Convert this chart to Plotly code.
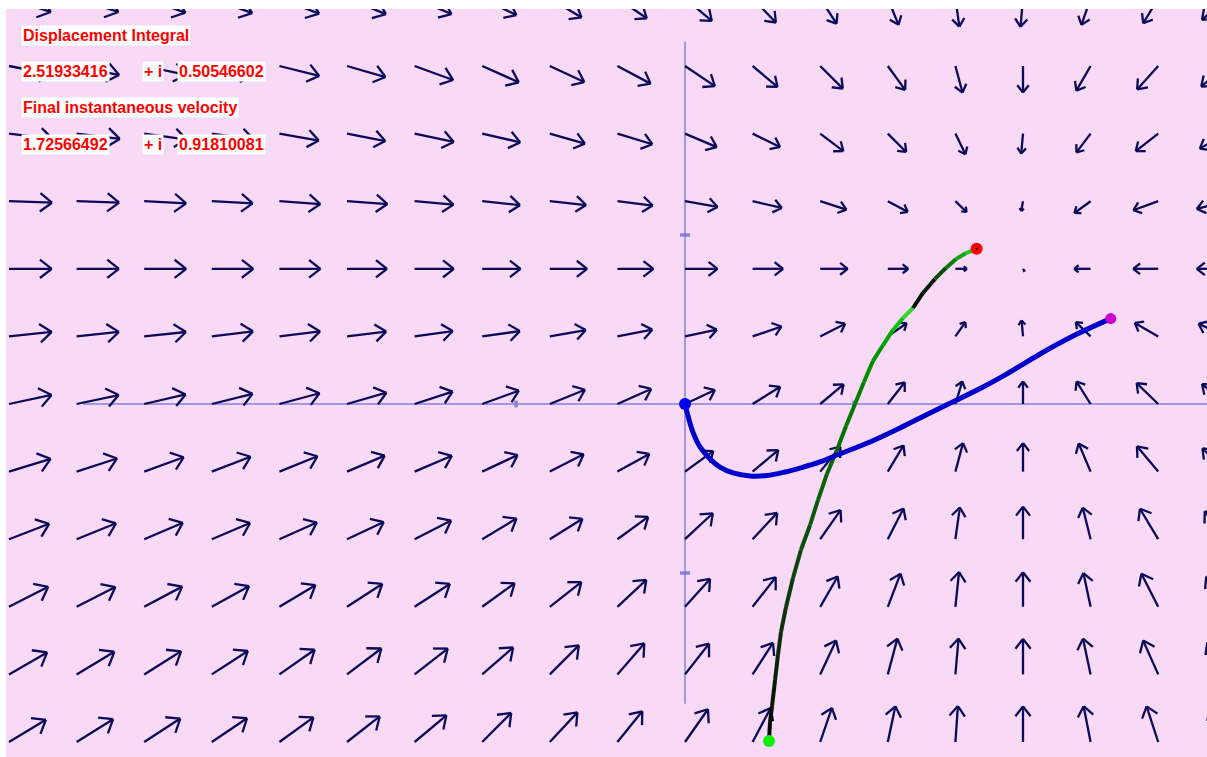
import math
import plotly.graph_objects as go

# ---------------- data ----------------
PX_PER_UNIT = 169.0   # screen pixels per complex-plane unit in the reference

GRID_X = [-4.0, -3.6, -3.2, -2.8, -2.4, -2.0, -1.6, -1.2, -0.8, -0.4,
          0.0, 0.4, 0.8, 1.2, 1.6, 2.0, 2.4, 2.8, 3.2]
GRID_Y = [2.4, 2.0, 1.6, 1.2, 0.8, 0.4, 0.0, -0.4, -0.8, -1.2, -1.6, -2.0]

# arrow direction (degrees, counter-clockwise from +x), one row per GRID_Y
FIELD_ANGLE = [
    [-18, -18, -19, -20, -21, -22, -23, -26, -31, -34, -40, -46, -57, -68, -82, -95, -109, -121, -138],
    [-11, -12, -12, -13, -14, -16, -20, -24, -25, -28, -34, -40, -45, -54, -75, -90, -120, -132, -140],
    [-7, -7, -8, -8, -10, -11, -12, -13, -16, -17, -23, -26, -37, -45, -64, -95, -127, -142, -150],
    [-2, -2, -3, -3, -4, -4, -5, -6, -6, -7, -10, -13, -18, -28, -44, -100, -144, -160, -165],
    [0, 0, 0, 0, 0, 0, 0, 0, 0, 0, 0, 0, 0, 0, 0, -60, 180, 180, 180],
    [6, 6, 6, 7, 7, 7, 8, 8, 10, 11, 12, 19, 27, 35, 55, 95, 136, 150, 155],
    [12, 12, 13, 14, 15, 16, 18, 20, 22, 24, 25, 32, 40, 52, 73, 90, 122, 136, 140],
    [17, 18, 20, 21, 22, 23, 23, 25, 27, 29, 36, 40, 51, 59, 75, 90, 113, 130, 135],
    [21, 22, 23, 23, 24, 25, 27, 31, 32, 36, 43, 47, 55, 63, 82, 90, 104, 121, 127],
    [27, 27, 28, 29, 31, 33, 33, 36, 38, 43, 48, 52, 60, 69, 84, 90, 102, 117, 123],
    [30, 31, 32, 33, 35, 37, 38, 41, 45, 49, 52, 57, 65, 75, 85, 90, 102, 114, 120],
    [31, 32, 33, 34, 36, 38, 40, 45, 47, 51, 55, 62, 71, 78, 86, 90, 101, 108, 115],
]

# drawn arrow length (screen pixels), one row per GRID_Y
FIELD_LEN_PX = [
    [44, 44, 43.5, 43, 42.5, 42, 40, 38, 37, 35.5, 35, 33.5, 30, 28.5, 28.5, 28.5, 28, 29, 32],
    [44, 43.5, 43, 42.5, 41, 40, 41, 40, 38, 37.5, 36, 32.5, 32, 29.5, 27.5, 26.5, 28.5, 31.5, 32],
    [44, 43.5, 43, 42.5, 40, 39, 40, 39, 36.5, 36.5, 34.5, 30.5, 29, 26, 23, 20, 23.5, 28.5, 30],
    [43, 42.5, 42, 41, 41, 40.5, 39, 38, 36.5, 35.5, 33, 30, 27.5, 22.5, 15.5, 10, 20, 26.5, 30],
    [42.7, 42.3, 42, 41.5, 41, 40, 39.3, 38.3, 37.3, 36, 32.5, 30.5, 27.5, 20.5, 11.5, 3, 16.5, 25, 29],
    [43, 42.5, 42, 41.5, 41, 39.5, 38.5, 38, 36.5, 35.5, 32.5, 30.5, 28, 23, 17.5, 16, 20.5, 27, 30],
    [43.5, 43, 42.5, 42, 41.5, 41, 40, 39, 38, 37, 33, 32.5, 30.5, 27.5, 23.5, 22.5, 26.5, 30, 31],
    [43.5, 42.5, 42, 41.5, 41, 41, 40.5, 39, 38, 36.5, 35, 33.5, 32, 30.5, 29.5, 28.5, 30.5, 33, 33],
    [43, 42.5, 42, 41.5, 41, 40.5, 41, 40, 38.5, 38, 38, 36, 35.5, 34.5, 32, 32.5, 32.5, 35.5, 35],
    [44, 43.5, 43, 42.5, 42, 42, 42, 40, 40, 39.5, 37.5, 37.5, 35, 35.5, 35, 34.5, 34.5, 37, 36],
    [44, 44, 43.5, 43, 43, 43, 42, 41, 41, 41, 39, 37.5, 37.5, 37, 36, 35.5, 36.5, 37, 37],
    [43, 43, 43, 42.5, 42, 41.5, 41.5, 41, 40.5, 39.5, 40, 38.5, 36, 36.5, 36, 35.5, 36.5, 37.5, 37],
]

# displacement path (blue), origin -> displacement integral
BLUE_X = [0.0, 0.018, 0.047, 0.089, 0.148, 0.207, 0.284, 0.385, 0.485, 0.592, 0.680,
          0.799, 0.899, 1.095, 1.272, 1.450, 1.609, 1.775, 1.905, 2.101, 2.308, 2.519]
BLUE_Y = [0.0, -0.071, -0.166, -0.254, -0.325, -0.373, -0.408, -0.426, -0.423, -0.402, -0.379,
          -0.343, -0.302, -0.225, -0.142, -0.053, 0.024, 0.107, 0.178, 0.296, 0.408, 0.505]

# velocity path (green), start -> final velocity
GREEN_X = [0.497, 0.503, 0.515, 0.533, 0.550, 0.568, 0.598, 0.639, 0.686, 0.740, 0.787,
           0.840, 0.899, 0.953, 1.006, 1.059, 1.112, 1.172, 1.231, 1.290, 1.349, 1.408,
           1.479, 1.544, 1.604, 1.663, 1.726]
GREEN_Y = [-1.994, -1.882, -1.787, -1.633, -1.485, -1.349, -1.201, -1.030, -0.864, -0.716, -0.568,
           -0.414, -0.272, -0.130, 0.000, 0.130, 0.254, 0.349, 0.438, 0.509, 0.568, 0.657,
           0.740, 0.805, 0.858, 0.893, 0.918]
GREEN_SEG_COLORS = ["#000000", "#030d03", "#061806", "#0a220a", "#0c2a0c", "#0d320d",
                    "#0d3a0d", "#0c440c", "#0b4e0b", "#0a580a", "#086008", "#066806",
                    "#047004", "#027802", "#008200", "#008c00", "#009600", "#00a600",
                    "#10c010", "#30d830", "#001000", "#061806", "#0a4a0a", "#0a7a0a",
                    "#10a810", "#22c822"]

DISPLACEMENT = (2.51933416, 0.50546602)
FINAL_VELOCITY = (1.72566492, 0.91810081)

TITLE_DISP = "Displacement Integral"
TITLE_VEL = "Final instantaneous velocity"

# axis extents (units)
AXIS_X_START = -3.562
AXIS_Y_TOP, AXIS_Y_BOTTOM = 2.144, -1.773
AXIS_TICKS = [-1.0, 1.0]

# ---------------- figure ----------------
W, H = 1207, 757
ML, MT = 6, 9
X_RANGE = [(ML - 685) / PX_PER_UNIT, (W - 685) / PX_PER_UNIT]
Y_RANGE = [(404 - H) / PX_PER_UNIT, (404 - MT) / PX_PER_UNIT]

ARROW_COLOR = "#0a0a58"
AXIS_COLOR = "#8282d8"

fig = go.Figure()

# vector field arrows
ax, ay = [], []
for r, yv in enumerate(GRID_Y):
    for c, xv in enumerate(GRID_X):
        a = math.radians(FIELD_ANGLE[r][c])
        L = FIELD_LEN_PX[r][c] / PX_PER_UNIT
        hx, hy = xv + L * math.cos(a), yv + L * math.sin(a)
        ax += [xv, hx, None]
        ay += [yv, hy, None]
        b = 0.35 * L
        for s in (1, -1):
            ba = a + math.pi + s * math.radians(38)
            ax += [hx + b * math.cos(ba), hx, None]
            ay += [hy + b * math.sin(ba), hy, None]
fig.add_trace(go.Scatter(x=ax, y=ay, mode="lines", hoverinfo="skip",
                         line=dict(color=ARROW_COLOR, width=2.3), showlegend=False))

# velocity path (coloured segments)
for i in range(len(GREEN_X) - 1):
    fig.add_trace(go.Scatter(x=GREEN_X[i:i + 2], y=GREEN_Y[i:i + 2], mode="lines",
                             line=dict(color=GREEN_SEG_COLORS[i], width=4),
                             hoverinfo="skip", showlegend=False))

# displacement path
fig.add_trace(go.Scatter(x=BLUE_X, y=BLUE_Y, mode="lines", line=dict(color="#0000cd", width=5),
                         line_shape="spline", hoverinfo="skip", showlegend=False))

# end points
fig.add_trace(go.Scatter(x=[BLUE_X[0]], y=[BLUE_Y[0]], mode="markers",
                         marker=dict(color="#0000f0", size=12), showlegend=False))
fig.add_trace(go.Scatter(x=[DISPLACEMENT[0]], y=[DISPLACEMENT[1]], mode="markers",
                         marker=dict(color="#cc00cc", size=11), showlegend=False))
fig.add_trace(go.Scatter(x=[GREEN_X[0]], y=[GREEN_Y[0]], mode="markers",
                         marker=dict(color="#11ee11", size=12), showlegend=False))
fig.add_trace(go.Scatter(x=[FINAL_VELOCITY[0]], y=[FINAL_VELOCITY[1]], mode="markers",
                         marker=dict(color="#ff0000", size=12), showlegend=False))
fig.add_trace(go.Scatter(x=[FINAL_VELOCITY[0]], y=[FINAL_VELOCITY[1]], mode="markers",
                         marker=dict(color="#000000", size=2), showlegend=False))

# axes as shapes
shapes = [
    dict(type="line", xref="x", yref="y", x0=AXIS_X_START, x1=X_RANGE[1], y0=0, y1=0,
         line=dict(color=AXIS_COLOR, width=1.5), layer="below"),
    dict(type="line", xref="x", yref="y", x0=0, x1=0, y0=AXIS_Y_BOTTOM, y1=AXIS_Y_TOP,
         line=dict(color=AXIS_COLOR, width=1.5), layer="below"),
]
for t in AXIS_TICKS:
    shapes.append(dict(type="line", xref="x", yref="y", x0=-0.03, x1=0.03, y0=t, y1=t,
                       line=dict(color=AXIS_COLOR, width=3.5), layer="below"))
    shapes.append(dict(type="line", xref="x", yref="y", x0=t, x1=t, y0=-0.02, y1=0.02,
                       line=dict(color=AXIS_COLOR, width=3.5), layer="below"))

# labels
def px_to_paper(X, Y):
    return (X - ML) / (W - ML), (H - Y) / (H - MT)

labels = [
    (TITLE_DISP, 21, 35.5),
    (f"{DISPLACEMENT[0]:.8f}", 21, 71.5),
    ("+ i", 142, 71.5),
    (f"{DISPLACEMENT[1]:.8f}", 177, 71.5),
    (TITLE_VEL, 21, 108),
    (f"{FINAL_VELOCITY[0]:.8f}", 21, 144),
    ("+ i", 142, 144),
    (f"{FINAL_VELOCITY[1]:.8f}", 177, 144),
]
annotations = []
for txt, X, Y in labels:
    px_, py_ = px_to_paper(X, Y)
    annotations.append(dict(text=txt, x=px_, y=py_, xref="paper", yref="paper",
                            xanchor="left", yanchor="middle", showarrow=False,
                            bgcolor="white", borderpad=1,
                            font=dict(family="Liberation Sans, Arial, sans-serif", size=16,
                                      color="#ff0000", weight="bold")))

fig.update_layout(
    width=W, height=H,
    margin=dict(l=ML, r=0, t=MT, b=0, pad=0),
    paper_bgcolor="white", plot_bgcolor="#f8daf7",
    xaxis=dict(range=X_RANGE, visible=False, fixedrange=True),
    yaxis=dict(range=Y_RANGE, visible=False, fixedrange=True),
    shapes=shapes, annotations=annotations, showlegend=False,
)

fig.write_html("out.html")
